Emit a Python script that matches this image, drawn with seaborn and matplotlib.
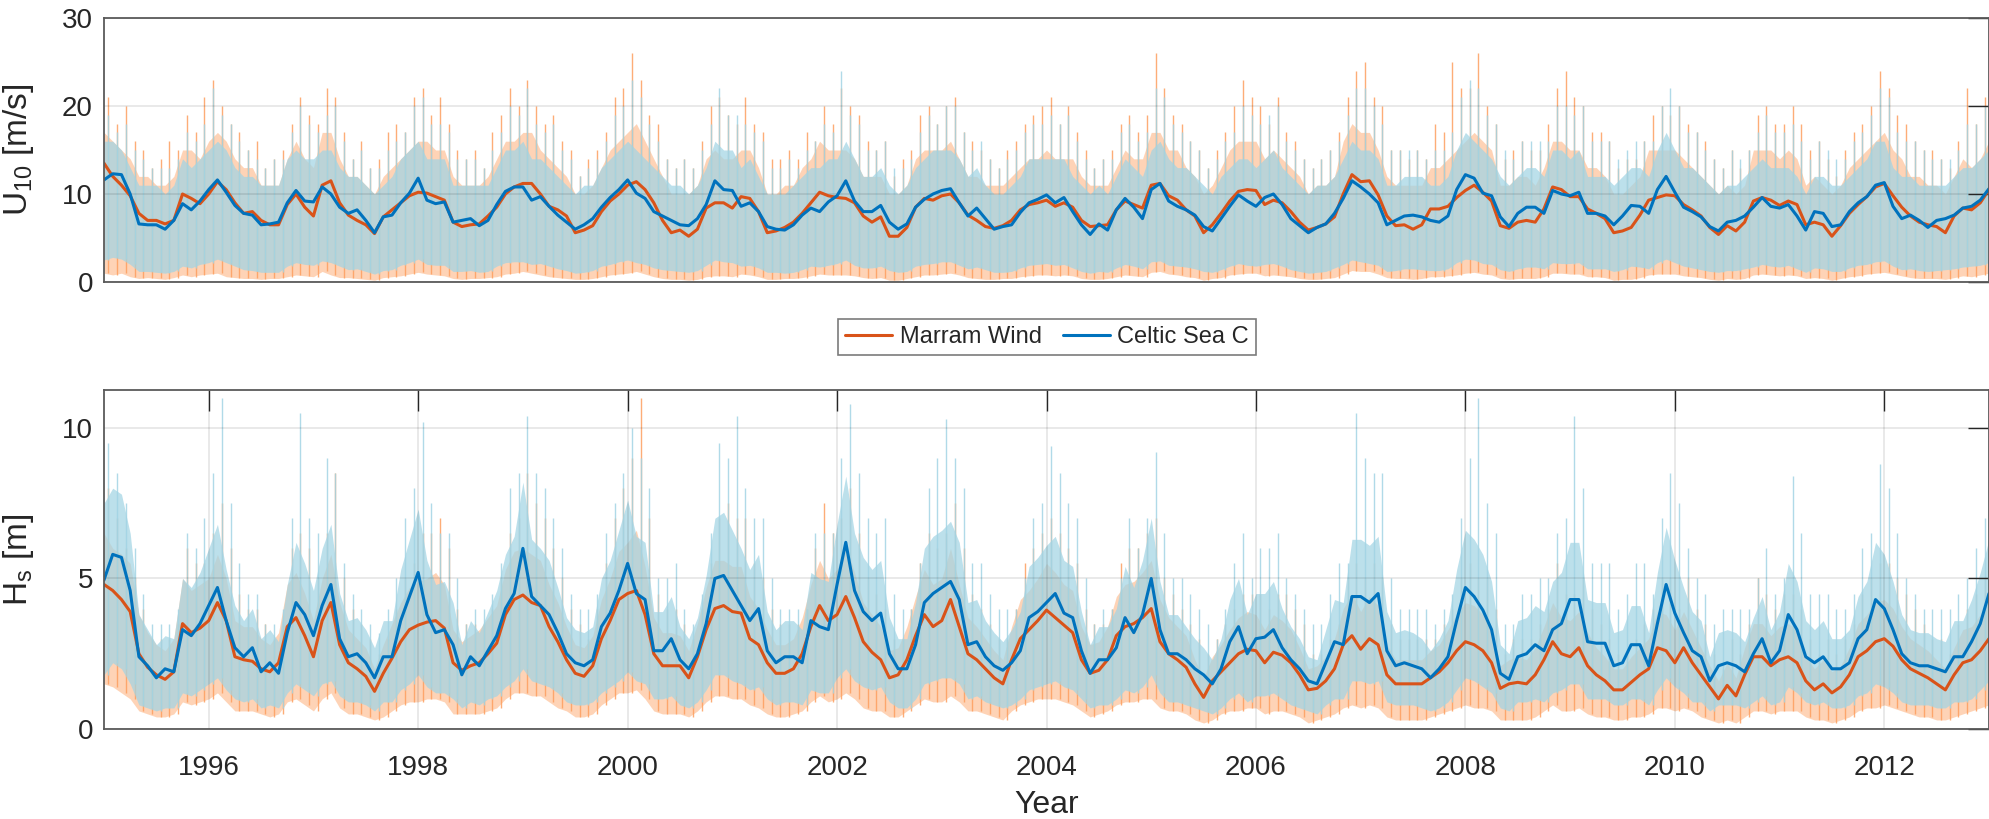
import numpy as np
import matplotlib
matplotlib.use("Agg")
import matplotlib.pyplot as plt
import seaborn as sns

# ---------------- data (monthly, Jan 1995 .. Jan 2013) ----------------
year_ticks = [1996, 1998, 2000, 2002, 2004, 2006, 2008, 2010, 2012]
series_names = ["Marram Wind", "Celtic Sea C"]

# U10 smoothed (m/s)
u10_marram = [
    13.5, 12.0, 11.0, 9.8, 7.8, 7.0, 7.0, 6.6, 7.0, 10.0, 9.5, 8.9,
    10.0, 11.4, 10.5, 9.0, 7.8, 8.0, 7.0, 6.5, 6.5, 8.8, 10.0, 8.5,
    7.5, 11.0, 11.5, 9.0, 7.6, 7.0, 6.5, 5.5, 7.4, 8.2, 9.0, 9.8,
    10.2, 10.1, 9.7, 9.3, 6.8, 6.3, 6.5, 6.6, 7.5, 8.5, 10.0, 10.8,
    11.2, 11.2, 10.0, 8.6, 8.2, 7.5, 5.6, 5.9, 6.4, 8.0, 9.2, 10.0,
    11.0, 11.4, 10.5, 9.0, 7.0, 5.6, 5.9, 5.2, 6.0, 8.4, 9.0, 9.0,
    8.4, 9.7, 9.5, 8.0, 5.6, 5.8, 6.2, 6.8, 7.8, 9.0, 10.2, 9.8,
    9.6, 9.5, 9.0, 7.5, 6.8, 7.4, 5.2, 5.2, 6.2, 8.5, 9.5, 9.3,
    9.8, 10.0, 9.0, 7.6, 7.0, 6.3, 6.1, 6.4, 7.0, 8.2, 8.8, 9.0,
    9.3, 8.6, 9.0, 8.5, 7.0, 6.3, 6.4, 6.5, 8.2, 9.2, 8.8, 8.4,
    11.0, 11.2, 9.8, 9.3, 8.2, 7.5, 5.6, 6.5, 7.8, 9.2, 10.3, 10.5,
    10.4, 8.8, 9.3, 9.0, 8.0, 6.8, 5.9, 6.2, 6.6, 7.4, 10.0, 12.2,
    11.4, 11.5, 9.9, 7.5, 6.4, 6.5, 6.0, 6.5, 8.3, 8.3, 8.6, 9.6,
    10.4, 11.0, 10.2, 9.2, 6.4, 6.1, 6.8, 7.0, 6.8, 8.3, 10.8, 10.5,
    9.7, 9.7, 8.3, 7.8, 7.2, 5.6, 5.8, 6.2, 7.6, 9.3, 9.6, 9.9,
    9.8, 8.8, 8.2, 7.5, 6.2, 5.4, 6.4, 5.8, 6.8, 9.2, 9.6, 9.3,
    8.7, 9.2, 8.8, 6.5, 6.8, 6.5, 5.2, 6.4, 7.8, 8.8, 9.7, 10.8,
    11.2, 9.8, 8.5, 7.5, 6.8, 6.5, 6.3, 5.6, 7.5, 8.4, 8.2, 9.0,
    10.5]
u10_celtic = [
    11.6, 12.3, 12.2, 10.0, 6.6, 6.5, 6.5, 6.0, 7.0, 8.9, 8.2, 9.2,
    10.5, 11.6, 10.2, 8.7, 7.8, 7.6, 6.5, 6.6, 6.8, 9.0, 10.4, 9.2,
    9.1, 10.8, 10.0, 8.5, 7.8, 8.2, 7.0, 5.6, 7.4, 7.6, 9.0, 10.1,
    11.8, 9.3, 8.9, 9.1, 6.8, 7.0, 7.2, 6.4, 7.0, 8.8, 10.3, 10.8,
    10.8, 9.3, 9.7, 8.6, 7.6, 6.8, 6.0, 6.5, 7.2, 8.5, 9.6, 10.5,
    11.6, 10.1, 9.5, 8.0, 7.5, 7.0, 6.5, 6.4, 7.2, 8.8, 11.5, 10.5,
    10.4, 8.6, 9.0, 8.0, 6.3, 6.0, 5.9, 6.5, 7.6, 8.4, 8.0, 9.1,
    9.8, 11.5, 9.2, 8.0, 8.0, 8.7, 6.8, 6.0, 6.6, 8.5, 9.4, 10.0,
    10.4, 10.6, 9.0, 7.5, 8.4, 7.2, 6.0, 6.3, 6.5, 7.9, 9.0, 9.4,
    9.9, 9.0, 9.6, 8.0, 6.5, 5.4, 6.6, 5.9, 8.2, 9.5, 8.5, 7.2,
    10.5, 11.2, 9.2, 8.6, 8.2, 7.6, 6.3, 5.8, 7.2, 8.6, 9.9, 9.2,
    8.6, 9.6, 10.0, 8.8, 7.2, 6.4, 5.6, 6.2, 6.6, 7.8, 9.5, 11.5,
    10.8, 10.0, 9.0, 6.5, 7.0, 7.5, 7.6, 7.4, 7.0, 6.8, 7.5, 10.5,
    12.2, 11.8, 10.1, 9.8, 7.4, 6.3, 7.8, 8.5, 8.5, 7.8, 10.4, 10.0,
    9.8, 10.2, 7.8, 7.8, 7.5, 6.5, 7.5, 8.7, 8.6, 7.8, 10.5, 12.0,
    10.2, 8.5, 8.0, 7.4, 6.3, 5.8, 6.8, 7.0, 7.5, 8.5, 9.6, 8.6,
    8.4, 8.8, 7.5, 5.9, 8.0, 7.8, 6.3, 6.5, 8.0, 9.0, 9.7, 11.0,
    11.3, 8.6, 7.2, 7.6, 7.0, 6.2, 7.0, 7.2, 7.6, 8.4, 8.6, 9.3,
    10.6]

# U10 raw per month: lower edge, top of dense band, highest spike
u10_marram_lo = [
    1.0, 0.8, 1.0, 0.6, 0.4, 0.5, 0.4, 0.3, 0.5, 0.8, 0.6, 0.8,
    0.9, 1.0, 0.6, 0.5, 0.4, 0.4, 0.3, 0.4, 0.4, 0.6, 0.8, 0.7,
    0.6, 1.2, 0.8, 0.5, 0.5, 0.4, 0.3, 0.2, 0.5, 0.6, 0.7, 0.9,
    1.1, 0.9, 0.8, 0.7, 0.4, 0.3, 0.4, 0.4, 0.5, 0.6, 0.9, 1.0,
    1.2, 1.0, 0.8, 0.6, 0.5, 0.4, 0.3, 0.3, 0.4, 0.6, 0.8, 0.9,
    1.0, 1.2, 0.9, 0.6, 0.4, 0.3, 0.3, 0.2, 0.3, 0.6, 0.7, 0.7,
    0.6, 0.9, 0.8, 0.6, 0.3, 0.3, 0.4, 0.4, 0.5, 0.7, 0.9, 0.8,
    0.8, 0.8, 0.7, 0.5, 0.4, 0.5, 0.2, 0.2, 0.4, 0.6, 0.8, 0.8,
    0.9, 1.0, 0.8, 0.5, 0.4, 0.3, 0.3, 0.4, 0.4, 0.6, 0.7, 0.8,
    0.8, 0.7, 0.8, 0.7, 0.4, 0.3, 0.3, 0.4, 0.6, 0.8, 0.7, 0.6,
    1.1, 1.2, 0.9, 0.8, 0.6, 0.5, 0.2, 0.4, 0.5, 0.8, 0.9, 1.0,
    1.0, 0.7, 0.8, 0.7, 0.6, 0.4, 0.3, 0.3, 0.4, 0.5, 0.9, 1.3,
    1.2, 1.2, 0.9, 0.5, 0.4, 0.4, 0.3, 0.4, 0.6, 0.6, 0.7, 0.8,
    1.0, 1.1, 0.9, 0.8, 0.4, 0.3, 0.4, 0.4, 0.4, 0.6, 1.0, 1.0,
    0.9, 0.9, 0.6, 0.6, 0.5, 0.2, 0.3, 0.3, 0.5, 0.8, 0.9, 0.9,
    0.9, 0.7, 0.6, 0.5, 0.3, 0.2, 0.4, 0.3, 0.4, 0.8, 0.9, 0.8,
    0.7, 0.8, 0.7, 0.4, 0.5, 0.4, 0.2, 0.4, 0.6, 0.7, 0.9, 1.0,
    1.1, 0.9, 0.7, 0.5, 0.4, 0.4, 0.4, 0.3, 0.5, 0.7, 0.6, 0.8,
    1.0]
u10_marram_hi = [
    17, 16, 15, 14, 12, 12, 11, 11, 12, 15, 15, 14,
    16, 17, 16, 14, 13, 13, 11, 11, 11, 14, 16, 14,
    13, 17, 17, 14, 12, 12, 11, 10, 12, 13, 14, 15,
    16, 16, 15, 15, 12, 11, 11, 11, 12, 14, 16, 16,
    17, 17, 15, 14, 13, 12, 10, 10, 11, 13, 15, 16,
    17, 18, 16, 14, 12, 10, 10, 10, 11, 14, 15, 14,
    14, 15, 15, 13, 10, 10, 11, 11, 13, 14, 16, 15,
    15, 15, 14, 12, 12, 12, 10, 10, 11, 14, 15, 15,
    15, 16, 14, 12, 12, 11, 11, 11, 12, 13, 14, 14,
    15, 14, 14, 14, 12, 11, 11, 11, 13, 15, 14, 14,
    17, 17, 15, 15, 13, 12, 10, 11, 13, 15, 16, 16,
    16, 14, 15, 14, 13, 12, 10, 11, 11, 12, 16, 18,
    17, 17, 15, 12, 11, 11, 11, 11, 13, 13, 14, 15,
    16, 17, 16, 15, 11, 11, 12, 12, 11, 13, 16, 16,
    15, 15, 13, 13, 12, 10, 10, 11, 12, 15, 15, 15,
    15, 14, 13, 12, 11, 10, 11, 10, 11, 15, 15, 15,
    14, 15, 14, 11, 12, 11, 10, 11, 13, 14, 15, 16,
    17, 15, 14, 12, 12, 11, 11, 10, 12, 14, 13, 14,
    16]
u10_marram_peak = [
    21, 18, 20, 16, 15, 13, 14, 16, 15, 19, 17, 21,
    23, 20, 18, 17, 15, 16, 13, 14, 15, 18, 21, 19,
    18, 22, 21, 17, 14, 16, 13, 14, 17, 18, 17, 21,
    22, 19, 21, 18, 15, 14, 15, 13, 17, 19, 22, 20,
    23, 20, 18, 19, 16, 15, 12, 14, 15, 17, 21, 22,
    26, 23, 19, 18, 14, 13, 14, 13, 16, 20, 21, 19,
    18, 21, 18, 17, 14, 14, 15, 14, 17, 16, 20, 18,
    22, 20, 19, 16, 15, 16, 12, 14, 15, 19, 20, 18,
    20, 21, 17, 16, 15, 14, 13, 15, 16, 18, 19, 20,
    21, 18, 20, 17, 15, 13, 14, 15, 18, 19, 17, 19,
    26, 22, 19, 18, 16, 15, 13, 15, 17, 20, 23, 21,
    20, 18, 21, 17, 16, 14, 13, 14, 15, 17, 21, 24,
    25, 21, 20, 15, 15, 14, 15, 14, 18, 17, 25, 22,
    22, 26, 20, 18, 14, 15, 16, 15, 15, 18, 22, 24,
    21, 20, 17, 17, 16, 13, 14, 14, 16, 19, 20, 19,
    20, 18, 17, 16, 14, 13, 15, 13, 15, 19, 20, 18,
    18, 20, 18, 15, 16, 14, 12, 15, 17, 18, 20, 24,
    22, 19, 18, 16, 15, 15, 14, 13, 16, 22, 18, 21,
    22]
u10_celtic_lo = [
    2.5, 2.8, 2.6, 2.0, 1.2, 1.2, 1.1, 1.0, 1.2, 1.8, 1.6, 2.0,
    2.2, 2.6, 2.2, 1.8, 1.4, 1.3, 1.1, 1.1, 1.1, 1.8, 2.2, 2.0,
    1.9, 2.4, 2.2, 1.8, 1.4, 1.5, 1.2, 0.9, 1.3, 1.4, 1.9, 2.2,
    2.6, 2.0, 1.9, 1.9, 1.2, 1.2, 1.3, 1.1, 1.2, 1.8, 2.2, 2.3,
    2.3, 2.0, 2.1, 1.8, 1.5, 1.3, 1.0, 1.1, 1.3, 1.8, 2.0, 2.3,
    2.5, 2.2, 2.0, 1.6, 1.4, 1.3, 1.2, 1.1, 1.3, 1.9, 2.5, 2.3,
    2.2, 1.8, 1.9, 1.6, 1.1, 1.1, 1.0, 1.1, 1.4, 1.8, 1.7, 1.9,
    2.1, 2.5, 1.9, 1.6, 1.6, 1.8, 1.3, 1.1, 1.2, 1.8, 2.0, 2.1,
    2.3, 2.3, 1.9, 1.5, 1.7, 1.4, 1.1, 1.1, 1.2, 1.6, 1.9, 2.0,
    2.1, 1.9, 2.0, 1.6, 1.2, 1.0, 1.2, 1.1, 1.6, 2.0, 1.8, 1.5,
    2.3, 2.4, 1.9, 1.8, 1.7, 1.5, 1.2, 1.1, 1.4, 1.8, 2.1, 1.9,
    1.8, 2.0, 2.1, 1.8, 1.4, 1.2, 1.0, 1.1, 1.2, 1.6, 2.0, 2.5,
    2.3, 2.1, 1.9, 1.2, 1.3, 1.5, 1.5, 1.4, 1.3, 1.3, 1.5, 2.2,
    2.6, 2.5, 2.1, 2.0, 1.4, 1.2, 1.5, 1.7, 1.7, 1.5, 2.2, 2.1,
    2.1, 2.2, 1.5, 1.5, 1.5, 1.2, 1.4, 1.8, 1.7, 1.5, 2.2, 2.6,
    2.2, 1.8, 1.6, 1.4, 1.2, 1.1, 1.3, 1.3, 1.5, 1.7, 2.0, 1.8,
    1.7, 1.9, 1.5, 1.1, 1.6, 1.5, 1.2, 1.2, 1.6, 1.9, 2.0, 2.3,
    2.4, 1.8, 1.4, 1.5, 1.3, 1.2, 1.3, 1.4, 1.5, 1.7, 1.8, 1.9,
    2.2]
u10_celtic_hi = [
    16, 16, 15, 13, 11, 11, 11, 10, 11, 14, 13, 14,
    15, 16, 15, 13, 12, 12, 11, 11, 11, 14, 15, 14,
    14, 15, 15, 13, 12, 12, 11, 10, 11, 12, 14, 15,
    16, 14, 14, 14, 11, 11, 11, 11, 11, 13, 15, 15,
    16, 14, 14, 13, 12, 11, 10, 11, 11, 13, 14, 15,
    16, 15, 14, 13, 12, 11, 11, 10, 11, 13, 16, 15,
    15, 13, 14, 12, 10, 10, 10, 11, 12, 13, 13, 14,
    14, 16, 14, 12, 12, 13, 11, 10, 11, 13, 14, 15,
    15, 15, 14, 12, 13, 11, 10, 10, 11, 12, 14, 14,
    14, 14, 14, 12, 11, 10, 11, 10, 12, 14, 13, 12,
    15, 16, 14, 13, 13, 12, 11, 10, 12, 13, 14, 14,
    13, 14, 15, 13, 12, 11, 10, 11, 11, 12, 14, 16,
    15, 15, 14, 11, 11, 12, 12, 12, 11, 11, 12, 15,
    17, 16, 15, 14, 12, 11, 12, 13, 13, 12, 15, 15,
    14, 15, 12, 12, 12, 11, 12, 13, 13, 12, 15, 17,
    15, 13, 13, 12, 11, 10, 11, 11, 12, 13, 14, 13,
    13, 13, 12, 10, 12, 12, 11, 11, 12, 13, 14, 16,
    16, 13, 12, 12, 11, 11, 11, 11, 12, 13, 13, 14,
    15]
u10_celtic_peak = [
    19, 17, 18, 15, 14, 13, 13, 13, 14, 17, 16, 18,
    22, 19, 18, 16, 15, 14, 13, 14, 14, 17, 20, 18,
    17, 19, 20, 16, 14, 15, 13, 13, 15, 16, 17, 20,
    21, 18, 18, 17, 14, 14, 14, 13, 15, 17, 20, 19,
    22, 18, 17, 18, 15, 14, 12, 13, 14, 16, 19, 20,
    23, 21, 18, 16, 14, 13, 14, 13, 15, 18, 22, 19,
    19, 18, 17, 16, 13, 13, 14, 13, 15, 16, 18, 17,
    24, 19, 18, 15, 15, 16, 13, 13, 14, 17, 19, 18,
    20, 20, 17, 15, 16, 14, 13, 14, 15, 17, 18, 18,
    19, 18, 19, 16, 14, 13, 14, 14, 17, 18, 16, 17,
    22, 21, 18, 17, 16, 15, 13, 14, 16, 17, 20, 19,
    18, 19, 20, 16, 15, 14, 13, 14, 15, 16, 19, 22,
    22, 20, 18, 15, 15, 15, 15, 14, 15, 15, 17, 21,
    23, 22, 19, 18, 15, 14, 16, 16, 16, 16, 20, 20,
    19, 20, 16, 16, 16, 14, 15, 16, 16, 16, 20, 22,
    20, 17, 17, 15, 14, 13, 15, 14, 15, 17, 19, 17,
    17, 18, 16, 14, 16, 15, 14, 14, 16, 17, 19, 22,
    21, 17, 16, 16, 15, 14, 14, 14, 15, 18, 18, 20,
    20]

# Hs smoothed (m)
hs_marram = [
    4.8, 4.6, 4.3, 3.9, 2.5, 2.05, 1.8, 1.65, 1.9, 3.5, 3.2, 3.35,
    3.6, 4.2, 3.6, 2.4, 2.3, 2.25, 2.0, 1.9, 2.2, 3.4, 3.7, 3.1,
    2.4, 3.6, 4.2, 2.8, 2.2, 2.0, 1.75, 1.25, 1.85, 2.35, 2.9, 3.3,
    3.45, 3.55, 3.6, 3.35, 2.2, 1.95, 2.1, 2.2, 2.5, 2.85, 3.8, 4.3,
    4.45, 4.2, 4.1, 3.4, 2.9, 2.3, 1.85, 1.75, 2.1, 3.0, 3.6, 4.3,
    4.5, 4.6, 3.8, 2.5, 2.1, 2.1, 2.1, 1.7, 2.4, 3.3, 4.0, 4.1,
    3.9, 3.85, 3.0, 2.8, 2.2, 1.85, 1.85, 2.0, 2.5, 3.4, 4.1, 3.6,
    3.8, 4.4, 3.7, 2.9, 2.55, 2.3, 1.7, 1.8, 2.3, 3.1, 3.8, 3.4,
    3.6, 4.3, 3.4, 2.5, 2.3, 2.0, 1.7, 1.5, 2.3, 3.0, 3.3, 3.6,
    3.95, 3.7, 3.45, 3.2, 2.3, 1.85, 1.95, 2.3, 3.1, 3.4, 3.5, 3.7,
    4.0, 2.9, 2.5, 2.3, 2.05, 1.5, 1.05, 1.6, 1.9, 2.2, 2.5, 2.65,
    2.6, 2.2, 2.55, 2.45, 2.2, 1.8, 1.3, 1.35, 1.6, 2.0, 2.8, 3.1,
    2.65, 3.0, 2.8, 1.8, 1.5, 1.5, 1.5, 1.5, 1.7, 1.9, 2.2, 2.6,
    2.9, 2.8, 2.6, 2.2, 1.35, 1.5, 1.55, 1.5, 1.8, 2.3, 2.9, 2.5,
    2.4, 2.7, 2.1, 1.8, 1.6, 1.3, 1.3, 1.55, 1.8, 2.0, 2.7, 2.6,
    2.2, 2.7, 2.2, 1.8, 1.4, 1.0, 1.45, 1.1, 1.8, 2.4, 2.4, 2.1,
    2.3, 2.4, 2.2, 1.6, 1.3, 1.5, 1.2, 1.4, 1.8, 2.4, 2.6, 2.9,
    3.0, 2.75, 2.3, 2.0, 1.85, 1.7, 1.5, 1.3, 1.8, 2.2, 2.3, 2.6,
    3.0]
hs_celtic = [
    4.95, 5.8, 5.7, 4.6, 2.4, 2.1, 1.7, 2.0, 1.9, 3.3, 3.1, 3.5,
    4.1, 4.7, 3.6, 2.7, 2.4, 2.7, 1.9, 2.2, 1.85, 3.2, 4.2, 3.8,
    3.1, 4.1, 4.8, 3.0, 2.4, 2.5, 2.2, 1.7, 2.4, 2.4, 3.6, 4.4,
    5.2, 3.8, 3.2, 3.3, 2.8, 1.8, 2.4, 2.1, 2.6, 3.1, 4.0, 4.5,
    6.0, 4.4, 4.1, 3.8, 3.2, 2.5, 2.2, 2.1, 2.3, 3.4, 3.85, 4.6,
    5.5, 4.5, 4.3, 2.6, 2.6, 3.0, 2.3, 2.0, 2.5, 3.5, 5.0, 5.1,
    4.6, 4.1, 3.6, 4.0, 2.6, 2.2, 2.4, 2.4, 2.2, 3.6, 3.4, 3.3,
    4.8, 6.2, 4.6, 3.9, 3.6, 3.85, 2.5, 2.0, 2.0, 2.8, 4.2, 4.5,
    4.7, 4.9, 4.3, 2.8, 2.9, 2.4, 2.1, 1.95, 2.2, 2.6, 3.7, 3.9,
    4.2, 4.5, 3.85, 3.7, 2.6, 1.85, 2.3, 2.3, 2.7, 3.7, 3.2, 3.8,
    5.0, 3.3, 2.5, 2.5, 2.3, 2.0, 1.8, 1.5, 2.0, 2.9, 3.4, 2.5,
    3.0, 3.05, 3.3, 2.7, 2.3, 2.0, 1.6, 1.5, 2.2, 2.9, 2.8, 4.4,
    4.4, 4.2, 4.5, 2.6, 2.1, 2.2, 2.1, 2.0, 1.7, 2.0, 2.4, 3.6,
    4.7, 4.4, 3.95, 3.3, 1.85, 1.65, 2.4, 2.5, 2.8, 2.6, 3.3, 3.5,
    4.3, 4.3, 2.9, 2.85, 2.85, 2.1, 2.2, 2.8, 2.8, 2.1, 3.5, 4.8,
    3.85, 3.2, 2.6, 2.4, 1.6, 2.1, 2.2, 2.1, 1.9, 2.5, 3.0, 2.2,
    2.6, 3.8, 3.3, 2.4, 2.2, 2.4, 2.0, 2.0, 2.2, 3.0, 3.3, 4.3,
    4.0, 3.3, 2.5, 2.2, 2.1, 2.1, 2.0, 1.9, 2.4, 2.4, 2.9, 3.5,
    4.5]

# Hs raw per month: lower edge, top of dense band, highest spike
hs_marram_lo = [
    1.5, 1.4, 1.2, 1.0, 0.6, 0.5, 0.4, 0.4, 0.5, 0.9, 0.8, 0.9,
    1.0, 1.2, 0.9, 0.6, 0.6, 0.6, 0.5, 0.4, 0.5, 0.9, 1.0, 0.8,
    0.6, 1.0, 1.2, 0.7, 0.5, 0.5, 0.4, 0.3, 0.4, 0.6, 0.8, 0.9,
    0.9, 1.0, 1.0, 0.9, 0.5, 0.5, 0.5, 0.5, 0.6, 0.7, 1.0, 1.2,
    1.2, 1.1, 1.1, 0.9, 0.7, 0.6, 0.4, 0.4, 0.5, 0.8, 1.0, 1.2,
    1.2, 1.3, 1.0, 0.6, 0.5, 0.5, 0.5, 0.4, 0.6, 0.9, 1.1, 1.1,
    1.0, 1.0, 0.8, 0.7, 0.5, 0.4, 0.4, 0.5, 0.6, 0.9, 1.1, 0.9,
    1.0, 1.2, 1.0, 0.7, 0.6, 0.6, 0.4, 0.4, 0.6, 0.8, 1.0, 0.9,
    0.9, 1.1, 0.9, 0.6, 0.6, 0.5, 0.4, 0.3, 0.6, 0.8, 0.9, 1.0,
    1.0, 1.0, 0.9, 0.8, 0.6, 0.4, 0.5, 0.6, 0.8, 0.9, 0.9, 1.0,
    1.0, 0.7, 0.6, 0.6, 0.5, 0.3, 0.2, 0.3, 0.5, 0.6, 0.6, 0.7,
    0.7, 0.5, 0.6, 0.6, 0.5, 0.4, 0.2, 0.3, 0.4, 0.5, 0.7, 0.8,
    0.7, 0.8, 0.7, 0.4, 0.3, 0.3, 0.3, 0.3, 0.4, 0.5, 0.6, 0.7,
    0.8, 0.7, 0.7, 0.6, 0.3, 0.3, 0.3, 0.3, 0.4, 0.6, 0.8, 0.6,
    0.6, 0.7, 0.5, 0.4, 0.4, 0.3, 0.3, 0.4, 0.4, 0.5, 0.7, 0.7,
    0.6, 0.7, 0.6, 0.4, 0.3, 0.2, 0.3, 0.2, 0.4, 0.6, 0.6, 0.5,
    0.6, 0.6, 0.6, 0.4, 0.3, 0.3, 0.2, 0.3, 0.4, 0.6, 0.7, 0.7,
    0.8, 0.7, 0.6, 0.5, 0.4, 0.4, 0.3, 0.3, 0.4, 0.5, 0.6, 0.7,
    0.8]
hs_marram_hi = [
    6.5, 6.0, 5.8, 5.5, 3.8, 3.2, 2.8, 2.6, 3.0, 5.0, 4.6, 4.8,
    5.0, 5.8, 5.0, 3.6, 3.4, 3.4, 3.0, 2.8, 3.2, 4.8, 5.2, 4.5,
    3.6, 5.0, 5.8, 4.2, 3.3, 3.0, 2.7, 2.0, 2.8, 3.5, 4.2, 4.7,
    4.9, 5.0, 5.2, 4.8, 3.3, 2.9, 3.1, 3.3, 3.7, 4.1, 5.3, 5.9,
    6.0, 5.8, 5.6, 4.8, 4.2, 3.4, 2.8, 2.7, 3.1, 4.3, 5.0, 5.9,
    6.2, 6.6, 5.4, 3.7, 3.2, 3.2, 3.1, 2.6, 3.5, 4.7, 5.6, 5.6,
    5.4, 5.4, 4.4, 4.0, 3.3, 2.8, 2.8, 3.0, 3.7, 4.8, 5.6, 5.0,
    5.3, 6.1, 5.2, 4.2, 3.8, 3.4, 2.6, 2.7, 3.4, 4.4, 5.3, 4.8,
    5.0, 6.0, 4.8, 3.7, 3.4, 3.0, 2.6, 2.3, 3.4, 4.3, 4.6, 5.0,
    5.5, 5.2, 4.8, 4.6, 3.4, 2.8, 2.9, 3.4, 4.4, 4.8, 4.9, 5.2,
    5.6, 4.3, 3.7, 3.4, 3.1, 2.3, 1.7, 2.4, 2.8, 3.3, 3.7, 3.9,
    3.8, 3.3, 3.8, 3.6, 3.3, 2.7, 2.0, 2.1, 2.4, 3.0, 4.0, 4.5,
    3.9, 4.4, 4.1, 2.8, 2.3, 2.3, 2.3, 2.3, 2.6, 2.8, 3.3, 3.8,
    4.2, 4.1, 3.8, 3.3, 2.1, 2.3, 2.4, 2.3, 2.7, 3.4, 4.2, 3.7,
    3.6, 3.9, 3.2, 2.7, 2.4, 2.0, 2.0, 2.4, 2.7, 3.0, 3.9, 3.8,
    3.3, 3.9, 3.3, 2.7, 2.1, 1.6, 2.2, 1.7, 2.7, 3.5, 3.5, 3.1,
    3.4, 3.5, 3.3, 2.4, 2.0, 2.3, 1.9, 2.1, 2.7, 3.5, 3.8, 4.2,
    4.3, 4.0, 3.4, 3.0, 2.8, 2.6, 2.3, 2.0, 2.7, 3.3, 3.4, 3.8,
    4.3]
hs_marram_peak = [
    8.0, 7.0, 6.0, 5.0, 4.0, 3.0, 3.0, 3.0, 3.5, 6.0, 5.5, 5.5,
    6.5, 7.5, 6.0, 4.5, 4.0, 4.0, 3.5, 3.0, 3.5, 6.0, 6.5, 6.0,
    5.0, 6.5, 8.5, 5.0, 4.0, 3.5, 3.0, 2.5, 3.0, 4.0, 5.0, 5.5,
    6.5, 6.5, 7.0, 6.0, 4.0, 3.5, 3.5, 3.5, 4.0, 5.0, 6.5, 7.0,
    8.5, 7.5, 7.0, 6.0, 5.0, 4.0, 3.5, 3.0, 4.0, 5.5, 7.0, 8.0,
    9.0, 11.0, 7.0, 4.5, 4.0, 4.0, 3.5, 3.0, 4.0, 5.5, 7.0, 7.5,
    7.0, 7.0, 5.5, 5.0, 4.0, 3.5, 3.5, 3.5, 4.0, 6.0, 7.5, 6.5,
    7.0, 8.0, 6.5, 5.0, 4.5, 4.0, 3.0, 3.0, 4.0, 5.5, 6.5, 6.0,
    6.5, 7.5, 6.0, 4.5, 4.0, 3.5, 3.0, 3.0, 4.0, 5.5, 6.0, 6.5,
    7.0, 6.5, 6.0, 5.5, 4.0, 3.5, 3.5, 4.0, 5.5, 6.0, 6.0, 6.5,
    7.0, 5.0, 4.5, 4.0, 3.5, 3.0, 2.5, 3.0, 3.5, 4.0, 4.5, 4.5,
    4.5, 4.0, 4.5, 4.5, 4.0, 3.5, 2.5, 2.5, 3.0, 3.5, 5.0, 5.5,
    5.0, 5.5, 5.0, 3.5, 3.0, 3.0, 3.0, 3.0, 3.0, 3.5, 4.0, 5.0,
    5.5, 5.0, 5.0, 4.0, 2.5, 3.0, 3.0, 3.0, 3.5, 4.0, 5.5, 4.5,
    4.5, 5.0, 4.0, 3.5, 3.0, 2.5, 2.5, 3.0, 3.5, 4.0, 5.0, 5.0,
    4.0, 5.0, 4.0, 3.5, 2.5, 2.0, 3.0, 2.5, 3.5, 5.0, 4.5, 4.0,
    4.5, 4.5, 4.0, 3.0, 2.5, 3.0, 2.5, 3.0, 3.5, 4.5, 5.0, 5.5,
    5.5, 5.0, 4.5, 4.0, 3.5, 3.0, 3.0, 2.5, 3.5, 4.0, 4.5, 5.0,
    7.5]
hs_celtic_lo = [
    1.8, 2.2, 2.0, 1.5, 0.8, 0.7, 0.6, 0.7, 0.7, 1.2, 1.1, 1.3,
    1.5, 1.7, 1.3, 1.0, 0.9, 1.0, 0.7, 0.8, 0.7, 1.2, 1.5, 1.3,
    1.1, 1.5, 1.6, 1.1, 0.9, 0.9, 0.8, 0.6, 0.9, 0.9, 1.3, 1.5,
    1.8, 1.4, 1.2, 1.2, 1.0, 0.7, 0.9, 0.8, 1.0, 1.1, 1.4, 1.6,
    2.0, 1.6, 1.5, 1.4, 1.2, 0.9, 0.8, 0.8, 0.9, 1.2, 1.4, 1.6,
    1.9, 1.6, 1.5, 1.0, 1.0, 1.1, 0.8, 0.7, 0.9, 1.3, 1.8, 1.8,
    1.6, 1.5, 1.3, 1.4, 1.0, 0.8, 0.9, 0.9, 0.8, 1.3, 1.2, 1.2,
    1.7, 2.0, 1.6, 1.4, 1.3, 1.4, 0.9, 0.7, 0.7, 1.0, 1.5, 1.6,
    1.7, 1.7, 1.5, 1.0, 1.1, 0.9, 0.8, 0.7, 0.8, 1.0, 1.3, 1.4,
    1.5, 1.6, 1.4, 1.3, 1.0, 0.7, 0.8, 0.8, 1.0, 1.3, 1.2, 1.4,
    1.8, 1.2, 0.9, 0.9, 0.8, 0.7, 0.6, 0.5, 0.7, 1.0, 1.2, 0.9,
    1.1, 1.1, 1.2, 1.0, 0.8, 0.7, 0.6, 0.5, 0.8, 1.0, 1.0, 1.6,
    1.6, 1.5, 1.6, 0.9, 0.8, 0.8, 0.8, 0.7, 0.6, 0.7, 0.9, 1.3,
    1.7, 1.6, 1.4, 1.2, 0.7, 0.6, 0.9, 0.9, 1.0, 0.9, 1.2, 1.3,
    1.5, 1.5, 1.0, 1.0, 1.0, 0.8, 0.8, 1.0, 1.0, 0.8, 1.3, 1.7,
    1.4, 1.2, 0.9, 0.9, 0.6, 0.8, 0.8, 0.8, 0.7, 0.9, 1.1, 0.8,
    0.9, 1.4, 1.2, 0.9, 0.8, 0.9, 0.7, 0.7, 0.8, 1.1, 1.2, 1.5,
    1.4, 1.2, 0.9, 0.8, 0.8, 0.8, 0.7, 0.7, 0.9, 0.9, 1.0, 1.3,
    1.6]
hs_celtic_hi = [
    7.5, 8.0, 7.8, 6.5, 3.8, 3.3, 2.8, 3.1, 3.0, 5.0, 4.7, 5.2,
    6.0, 6.8, 5.3, 4.1, 3.6, 4.0, 3.0, 3.3, 2.9, 4.8, 6.2, 5.5,
    4.6, 6.0, 6.8, 4.5, 3.6, 3.7, 3.3, 2.7, 3.6, 3.6, 5.3, 6.3,
    7.3, 5.6, 4.8, 4.9, 4.2, 2.8, 3.6, 3.2, 3.9, 4.6, 5.8, 6.4,
    8.2, 6.3, 6.0, 5.6, 4.7, 3.7, 3.3, 3.2, 3.4, 5.0, 5.6, 6.6,
    7.6, 6.4, 6.2, 3.9, 3.9, 4.4, 3.4, 3.0, 3.7, 5.1, 7.0, 7.2,
    6.6, 6.0, 5.3, 5.8, 3.9, 3.3, 3.6, 3.6, 3.3, 5.2, 5.0, 4.9,
    6.8, 8.4, 6.5, 5.7, 5.3, 5.6, 3.7, 3.0, 3.0, 4.2, 6.0, 6.4,
    6.6, 6.9, 6.2, 4.2, 4.3, 3.6, 3.2, 2.9, 3.3, 3.9, 5.4, 5.7,
    6.1, 6.4, 5.6, 5.4, 3.9, 2.8, 3.4, 3.4, 4.0, 5.4, 4.7, 5.6,
    7.0, 4.9, 3.8, 3.8, 3.4, 3.0, 2.7, 2.3, 3.0, 4.3, 5.0, 3.8,
    4.5, 4.5, 4.9, 4.0, 3.4, 3.0, 2.4, 2.3, 3.3, 4.3, 4.2, 6.3,
    6.3, 6.1, 6.4, 3.9, 3.2, 3.3, 3.2, 3.0, 2.6, 3.0, 3.6, 5.3,
    6.6, 6.3, 5.8, 4.9, 2.8, 2.5, 3.6, 3.7, 4.1, 3.9, 4.9, 5.2,
    6.2, 6.2, 4.3, 4.2, 4.2, 3.2, 3.3, 4.1, 4.1, 3.2, 5.2, 6.7,
    5.6, 4.7, 3.9, 3.6, 2.4, 3.2, 3.3, 3.2, 2.9, 3.7, 4.4, 3.3,
    3.9, 5.5, 4.9, 3.6, 3.3, 3.6, 3.0, 3.0, 3.3, 4.4, 4.9, 6.2,
    5.8, 4.9, 3.8, 3.3, 3.2, 3.2, 3.0, 2.9, 3.6, 3.6, 4.3, 5.2,
    6.3]
hs_celtic_peak = [
    9.5, 8.5, 7.5, 6.0, 4.5, 3.5, 3.5, 3.5, 4.0, 6.5, 6.0, 7.0,
    8.5, 11.0, 7.5, 5.5, 4.5, 4.5, 3.5, 3.5, 4.0, 7.0, 10.5, 7.0,
    6.5, 9.0, 8.5, 5.5, 4.5, 4.0, 3.5, 3.2, 4.0, 5.0, 7.0, 8.0,
    10.2, 7.5, 6.5, 6.5, 5.0, 3.5, 4.0, 4.0, 4.5, 5.5, 8.0, 8.5,
    10.4, 8.5, 8.0, 7.0, 6.0, 4.5, 4.0, 4.0, 4.5, 6.5, 7.5, 8.5,
    10.0, 9.0, 8.0, 5.0, 5.0, 5.5, 4.0, 3.5, 4.5, 6.5, 9.5, 9.0,
    10.4, 8.0, 7.0, 7.0, 5.0, 4.0, 4.0, 4.0, 4.0, 6.5, 6.5, 6.5,
    9.0, 10.8, 8.5, 7.0, 6.5, 7.0, 4.5, 4.0, 4.0, 5.5, 8.0, 9.0,
    10.3, 9.0, 8.0, 5.5, 5.5, 4.5, 4.0, 4.0, 4.0, 5.0, 7.0, 7.5,
    9.4, 8.5, 7.5, 7.0, 5.0, 3.5, 4.0, 4.0, 5.0, 7.0, 6.0, 7.0,
    9.2, 6.5, 5.0, 5.0, 4.5, 4.0, 3.5, 3.0, 4.0, 5.5, 6.5, 5.0,
    6.0, 6.0, 6.5, 5.0, 4.5, 4.0, 3.5, 3.5, 4.5, 5.5, 5.5, 10.5,
    9.0, 8.5, 8.5, 5.0, 4.0, 4.0, 4.0, 4.0, 3.5, 4.0, 4.5, 7.0,
    9.0, 11.0, 7.5, 6.5, 3.5, 3.5, 4.5, 4.5, 5.0, 5.0, 6.5, 7.0,
    10.4, 8.0, 5.5, 5.5, 5.5, 4.0, 4.5, 5.5, 5.5, 4.5, 7.0, 8.5,
    7.5, 6.0, 5.0, 4.5, 3.5, 4.0, 4.0, 4.0, 4.0, 5.0, 6.0, 4.5,
    5.0, 8.4, 6.5, 4.5, 4.5, 4.5, 4.0, 4.0, 4.5, 6.0, 6.5, 8.8,
    8.0, 6.5, 5.0, 4.5, 4.0, 4.0, 4.0, 4.0, 4.5, 5.0, 6.0, 7.0,
    8.0]

# ---------------- style ----------------
sns.set_theme(style="white")
plt.rcParams["font.family"] = ["Liberation Sans Narrow", "Liberation Sans", "DejaVu Sans"]
plt.rcParams["mathtext.default"] = "regular"

C_OR, C_BL = "#D95319", "#0072BD"
C_OR_RAW, C_BL_RAW = "#FD9F5F", "#A2D4E4"
AX_COL = "#262626"
SPINE_COL = "#5a5a5a"

months = np.arange(len(u10_marram))
t = 1995 + months / 12.0  # decimal year of each monthly value

W, H = 1990, 819
fig = plt.figure(figsize=(W / 100, H / 100), dpi=100)
ax1 = fig.add_axes([104 / W, 1 - 282 / H, 1885 / W, 264 / H])
ax2 = fig.add_axes([104 / W, 1 - 729 / H, 1885 / W, 339 / H])


def draw_raw(ax, lo, hi, peak, color, fill_alpha, line_alpha):
    lo = np.asarray(lo, float)
    hi = np.asarray(hi, float)
    peak = np.asarray(peak, float)
    ax.fill_between(t, lo, hi, color=color, alpha=fill_alpha, lw=0, zorder=1)
    # one vertical stroke per month spanning that month's range up to its peak
    ax.vlines(t + 1 / 24, lo, peak, color=color, lw=1.0, alpha=line_alpha, zorder=1)


draw_raw(ax1, u10_marram_lo, u10_marram_hi, u10_marram_peak, C_OR_RAW, 0.45, 0.85)
draw_raw(ax1, u10_celtic_lo, u10_celtic_hi, u10_celtic_peak, C_BL_RAW, 0.72, 0.85)
sns.lineplot(x=t, y=u10_marram, ax=ax1, color=C_OR, lw=2.2, zorder=3, label=series_names[0], legend=False)
sns.lineplot(x=t, y=u10_celtic, ax=ax1, color=C_BL, lw=2.2, zorder=3, label=series_names[1], legend=False)

draw_raw(ax2, hs_marram_lo, hs_marram_hi, hs_marram_peak, C_OR_RAW, 0.45, 0.85)
draw_raw(ax2, hs_celtic_lo, hs_celtic_hi, hs_celtic_peak, C_BL_RAW, 0.72, 0.85)
sns.lineplot(x=t, y=hs_marram, ax=ax2, color=C_OR, lw=2.2, zorder=3, legend=False)
sns.lineplot(x=t, y=hs_celtic, ax=ax2, color=C_BL, lw=2.2, zorder=3, legend=False)

for ax in (ax1, ax2):
    ax.set_xlim(1995, 2013)
    for s in ax.spines.values():
        s.set_color(SPINE_COL)
        s.set_linewidth(1.3)
        s.set_zorder(5)
    ax.set_axisbelow(False)
    ax.tick_params(direction="in", length=15, width=1.0, colors=AX_COL,
                   labelsize=20, top=True, right=True, pad=8)
    ax.tick_params(axis="x", pad=19)

ax1.set_ylim(0, 30)
ax1.set_yticks([0, 10, 20, 30])
ax1.set_xticks([])
ax1.grid(True, axis="y", color="#000000", alpha=0.10, lw=1.2, zorder=2)
ax1.set_ylabel("U$_{10}$ [m/s]", fontsize=24, color=AX_COL)
ax1.yaxis.set_label_coords(-0.036, 0.5)
ax1.set_xlabel("")

ax2.set_ylim(0, 11.26)
ax2.set_yticks([0, 5, 10])
ax2.set_xticks(year_ticks)
ax2.set_xticklabels([str(y) for y in year_ticks])
ax2.grid(True, color="#000000", alpha=0.10, lw=1.2, zorder=2)
ax2.set_ylabel("H$_s$ [m]", fontsize=24, color=AX_COL)
ax2.yaxis.set_label_coords(-0.036, 0.5)
ax2.set_xlabel("Year", fontsize=23, color=AX_COL, labelpad=6)

handles = ax1.get_lines()[-2:]
leg = fig.legend(handles, series_names, loc="center",
                 bbox_to_anchor=(1047 / W, 1 - 337 / H), ncol=2,
                 frameon=True, fancybox=False, edgecolor=SPINE_COL,
                 fontsize=17, handlelength=2.0, handletextpad=0.3,
                 columnspacing=0.9, borderpad=0.3)
leg.get_frame().set_linewidth(1.2)

fig.savefig("out.png", dpi=100)
